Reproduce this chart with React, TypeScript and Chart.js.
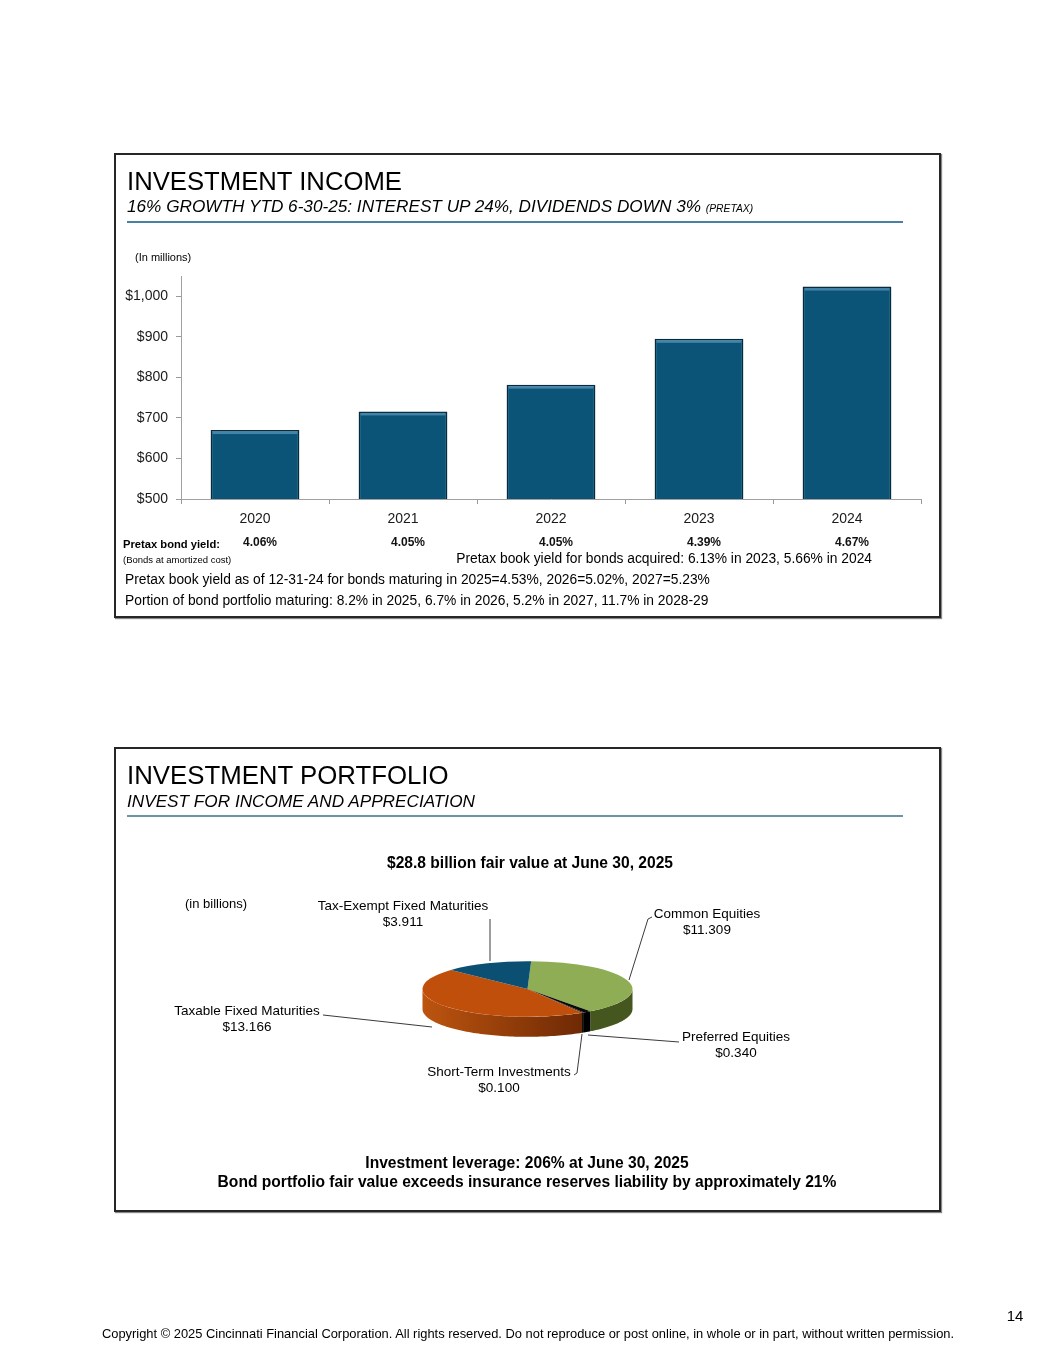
import React, { useEffect, useRef } from 'react';
import { Chart, registerables } from 'chart.js';

Chart.register(...registerables);

const FONT = '"Liberation Sans", Arial, Helvetica, sans-serif';

// ---- Investment income (bar chart) ----
const years = ['2020', '2021', '2022', '2023', '2024'];
const investmentIncome = [670, 716, 782, 895, 1024];
const bondYields = ['4.06%', '4.05%', '4.05%', '4.39%', '4.67%'];
const yMin = 500;
const yMax = 1050;
const yStep = 100;

// ---- Investment portfolio (pie chart) ----
const pieLabels = [
  'Common Equities',
  'Preferred Equities',
  'Short-Term Investments',
  'Taxable Fixed Maturities',
  'Tax-Exempt Fixed Maturities',
];
const pieValues = [11.309, 0.34, 0.1, 13.166, 3.911];
const pieTopColors = ['#8fad55', '#0a0a0a', '#1a1a1a', '#c14f0c', '#0b5072'];
const pieSideColors = [
  ['#566b2c', '#45561f'],
  ['#000000', '#000000'],
  ['#111111', '#111111'],
  ['#bd540f', '#6a2704'],
  ['#083a54', '#083a54'],
];

const PIE_TILT = 0.265;
const PIE_DEPTH = 20;

const pie3d = {
  id: 'pie3d',
  beforeDatasetsDraw(chart: any) {
    const ctx = chart.ctx as CanvasRenderingContext2D;
    const meta = chart.getDatasetMeta(0);
    const arcs = meta.data as any[];
    let cx = chart.width / 2;
    let cy = chart.height / 2;
    if (arcs.length) {
      const p = arcs[0].getProps(['x', 'y', 'outerRadius'], true);
      cx = p.x;
      cy = p.y;
      const r = p.outerRadius;
      const ry = r * PIE_TILT;
      arcs.forEach((arc: any, i: number) => {
        const { startAngle, endAngle } = arc.getProps(['startAngle', 'endAngle'], true);
        for (const base of [-2 * Math.PI, 0, 2 * Math.PI]) {
          const a = Math.max(startAngle, base);
          const b = Math.min(endAngle, base + Math.PI);
          if (b <= a) continue;
          const grad = ctx.createLinearGradient(cx - r, 0, cx + r * 0.6, 0);
          grad.addColorStop(0, pieSideColors[i][0]);
          grad.addColorStop(1, pieSideColors[i][1]);
          ctx.beginPath();
          const steps = 80;
          for (let k = 0; k <= steps; k++) {
            const t = a + ((b - a) * k) / steps;
            const x = cx + r * Math.cos(t);
            const y = cy + ry * Math.sin(t);
            if (k === 0) ctx.moveTo(x, y);
            else ctx.lineTo(x, y);
          }
          for (let k = steps; k >= 0; k--) {
            const t = a + ((b - a) * k) / steps;
            ctx.lineTo(cx + r * Math.cos(t), cy + ry * Math.sin(t) + PIE_DEPTH);
          }
          ctx.closePath();
          ctx.fillStyle = grad;
          ctx.fill();
        }
      });
    }
    ctx.save();
    ctx.translate(cx, cy);
    ctx.scale(1, PIE_TILT);
    ctx.translate(-cx, -cy);
  },
  afterDatasetsDraw(chart: any) {
    chart.ctx.restore();
  },
};

const barShine = {
  id: 'barShine',
  afterDatasetsDraw(chart: any) {
    const ctx = chart.ctx as CanvasRenderingContext2D;
    const meta = chart.getDatasetMeta(0);
    ctx.save();
    meta.data.forEach((bar: any) => {
      const { x, y, width } = bar.getProps(['x', 'y', 'width'], true);
      ctx.fillStyle = 'rgba(105,165,200,0.6)';
      ctx.fillRect(x - width / 2 + 2, y + 1.5, width - 4, 2.5);
    });
    ctx.restore();
  },
};

const yieldRow = {
  id: 'yieldRow',
  afterDraw(chart: any) {
    const ctx = chart.ctx as CanvasRenderingContext2D;
    const xs = chart.scales.x;
    ctx.save();
    ctx.font = `bold 12px ${FONT}`;
    ctx.fillStyle = '#111';
    ctx.textAlign = 'center';
    ctx.textBaseline = 'middle';
    bondYields.forEach((v, i) => {
      ctx.fillText(v, xs.getPixelForValue(i) + 5, chart.chartArea.bottom + 44);
    });
    ctx.restore();
  },
};

type TxtProps = {
  x: number;
  y: number;
  align?: 'left' | 'center' | 'right';
  size: number;
  bold?: boolean;
  italic?: boolean;
  color?: string;
  children: React.ReactNode;
};

function Txt({ x, y, align = 'left', size, bold, italic, color = '#000', children }: TxtProps) {
  const tx = align === 'left' ? '0' : align === 'center' ? '-50%' : '-100%';
  return (
    <div
      style={{
        position: 'absolute',
        left: x,
        top: y,
        transform: `translate(${tx},-50%)`,
        fontSize: size,
        fontWeight: bold ? 700 : 400,
        fontStyle: italic ? 'italic' : 'normal',
        whiteSpace: 'nowrap',
        lineHeight: 1.15,
        color,
        zIndex: 2,
      }}
    >
      {children}
    </div>
  );
}

function Panel({ top, height }: { top: number; height: number }) {
  return (
    <div
      style={{
        position: 'absolute',
        left: 114,
        top,
        width: 827,
        height,
        boxSizing: 'border-box',
        border: '2px solid #262626',
        boxShadow: '1px 1px 1px #888',
      }}
    />
  );
}

export default function App() {
  const barRef = useRef<HTMLCanvasElement>(null);
  const pieRef = useRef<HTMLCanvasElement>(null);

  useEffect(() => {
    const bar = new Chart(barRef.current as HTMLCanvasElement, {
      type: 'bar',
      data: {
        labels: years,
        datasets: [
          {
            data: investmentIncome,
            backgroundColor: '#0b5478',
            borderColor: '#082a3d',
            borderWidth: 1.5,
            barPercentage: 0.6,
            categoryPercentage: 1,
          },
        ],
      },
      options: {
        responsive: false,
        animation: false,
        events: [],
        layout: { padding: { top: 6, right: 12, left: 0, bottom: 0 } },
        plugins: { legend: { display: false }, tooltip: { enabled: false } },
        scales: {
          x: {
            grid: { offset: true, drawOnChartArea: false, tickLength: 5, color: '#9a9a9a' },
            border: { display: true, color: '#a0a0a0', width: 1 },
            ticks: { font: { family: FONT, size: 14 }, color: '#1a1a1a', padding: 7, maxRotation: 0 },
            afterFit(scale: any) {
              scale.height = 61;
              scale.paddingLeft = 0;
              scale.paddingRight = 0;
            },
          },
          y: {
            min: yMin,
            max: yMax,
            ticks: {
              stepSize: yStep,
              font: { family: FONT, size: 14 },
              color: '#1a1a1a',
              padding: 8,
              callback: (v: any) => '$' + Number(v).toLocaleString('en-US'),
            },
            grid: { drawOnChartArea: false, tickLength: 5, color: '#9a9a9a' },
            border: { display: true, color: '#a0a0a0', width: 1 },
            afterBuildTicks(scale: any) {
              scale.ticks = scale.ticks.filter((t: any) => t.value % yStep === 0);
            },
            afterFit(scale: any) {
              scale.width = 63;
              scale.paddingTop = 0;
              scale.paddingBottom = 0;
            },
          },
        },
      },
      plugins: [barShine, yieldRow],
    } as any);

    const pie = new Chart(pieRef.current as HTMLCanvasElement, {
      type: 'pie',
      data: {
        labels: pieLabels,
        datasets: [
          {
            data: pieValues,
            backgroundColor: pieTopColors,
            borderWidth: 0,
            clip: false,
          },
        ],
      },
      options: {
        responsive: false,
        animation: false,
        events: [],
        rotation: 2,
        layout: { padding: 5 },
        plugins: { legend: { display: false }, tooltip: { enabled: false } },
      },
      plugins: [pie3d],
    } as any);

    return () => {
      bar.destroy();
      pie.destroy();
    };
  }, []);

  const fmt = (v: number) => '$' + v.toFixed(3);

  return (
    <div
      style={{
        position: 'absolute',
        left: 0,
        top: 0,
        width: 1055,
        height: 1365,
        background: '#fff',
        fontFamily: FONT,
        color: '#000',
        overflow: 'hidden',
      }}
    >
      {/* ---------- Top panel ---------- */}
      <Panel top={153} height={465} />
      <Txt x={127} y={182} size={25.7}>INVESTMENT INCOME</Txt>
      <Txt x={127} y={207} size={17.2} italic>
        16% GROWTH YTD 6-30-25: INTEREST UP 24%, DIVIDENDS DOWN 3%{' '}
        <span style={{ fontSize: 10.3 }}>(PRETAX)</span>
      </Txt>
      <div style={{ position: 'absolute', left: 127, top: 221, width: 776, height: 1.5, background: '#4a80a3' }} />
      <Txt x={135} y={257} size={11}>(In millions)</Txt>

      <canvas
        ref={barRef}
        width={815}
        height={290}
        style={{ position: 'absolute', left: 118, top: 270, width: 815, height: 290 }}
      />

      <Txt x={123} y={544} size={11.2} bold>Pretax bond yield:</Txt>
      <Txt x={123} y={560} size={9.5}>(Bonds at amortized cost)</Txt>
      <Txt x={872} y={559} size={13.8} align="right">
        Pretax book yield for bonds acquired: 6.13% in 2023, 5.66% in 2024
      </Txt>
      <Txt x={125} y={580} size={13.8}>
        Pretax book yield as of 12-31-24 for bonds maturing in 2025=4.53%, 2026=5.02%, 2027=5.23%
      </Txt>
      <Txt x={125} y={601} size={13.8}>
        Portion of bond portfolio maturing: 8.2% in 2025, 6.7% in 2026, 5.2% in 2027, 11.7% in 2028-29
      </Txt>

      {/* ---------- Bottom panel ---------- */}
      <Panel top={747} height={465} />
      <Txt x={127} y={776} size={25.8}>INVESTMENT PORTFOLIO</Txt>
      <Txt x={127} y={802} size={17.2} italic>INVEST FOR INCOME AND APPRECIATION</Txt>
      <div style={{ position: 'absolute', left: 127, top: 815, width: 776, height: 1.5, background: '#6b94a8' }} />

      <Txt x={530} y={863} size={15.6} bold align="center">$28.8 billion fair value at June 30, 2025</Txt>
      <Txt x={185} y={904} size={13}>(in billions)</Txt>

      <canvas
        ref={pieRef}
        width={221}
        height={220}
        style={{ position: 'absolute', left: 417, top: 879, width: 221, height: 220, zIndex: 1 }}
      />

      <svg
        width={1055}
        height={1365}
        style={{ position: 'absolute', left: 0, top: 0, zIndex: 1, pointerEvents: 'none' }}
      >
        <g stroke="#3a3a3a" strokeWidth={1} fill="none">
          <polyline points="490,919 490,961" />
          <polyline points="652,917 648,919 629,980" />
          <polyline points="323,1015 432,1027" />
          <polyline points="679,1042 588,1035" />
          <polyline points="574,1075 577,1073 582,1034" />
        </g>
      </svg>

      <Txt x={403} y={906} size={13.5} align="center">{pieLabels[4]}</Txt>
      <Txt x={403} y={922} size={13.5} align="center">{fmt(pieValues[4])}</Txt>

      <Txt x={707} y={914} size={13.5} align="center">{pieLabels[0]}</Txt>
      <Txt x={707} y={930} size={13.5} align="center">{fmt(pieValues[0])}</Txt>

      <Txt x={247} y={1011} size={13.5} align="center">{pieLabels[3]}</Txt>
      <Txt x={247} y={1027} size={13.5} align="center">{fmt(pieValues[3])}</Txt>

      <Txt x={736} y={1037} size={13.5} align="center">{pieLabels[1]}</Txt>
      <Txt x={736} y={1053} size={13.5} align="center">{fmt(pieValues[1])}</Txt>

      <Txt x={499} y={1072} size={13.5} align="center">{pieLabels[2]}</Txt>
      <Txt x={499} y={1088} size={13.5} align="center">{fmt(pieValues[2])}</Txt>

      <Txt x={527} y={1163} size={15.6} bold align="center">Investment leverage: 206% at June 30, 2025</Txt>
      <Txt x={527} y={1182} size={15.6} bold align="center">
        Bond portfolio fair value exceeds insurance reserves liability by approximately 21%
      </Txt>

      {/* ---------- Footer ---------- */}
      <Txt x={1015} y={1316} size={15} align="center">14</Txt>
      <Txt x={528} y={1334} size={12.9} align="center">
        Copyright © 2025 Cincinnati Financial Corporation. All rights reserved. Do not reproduce or post online, in whole or in part, without written permission.
      </Txt>
    </div>
  );
}
